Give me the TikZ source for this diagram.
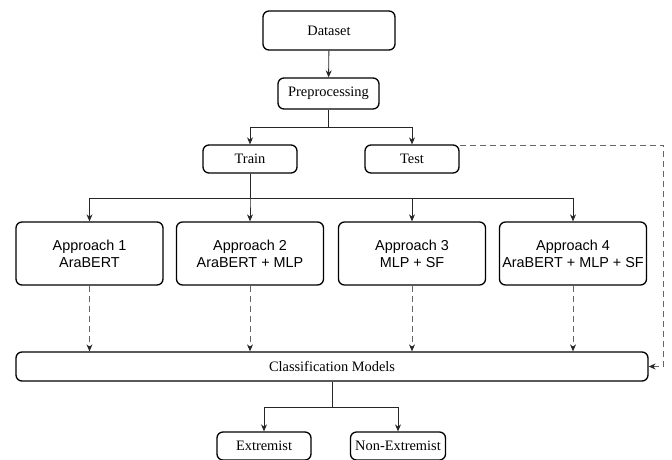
\documentclass[tikz,border=0pt]{standalone}
\usepackage{fontspec}
\setmainfont{Liberation Serif}
\setsansfont{Liberation Sans}
\usetikzlibrary{arrows.meta}

\begin{document}
\begin{tikzpicture}[x=1pt,y=-1pt,
        box/.style={draw,line width=1.3pt,rounded corners=6pt,inner sep=0pt,
          font=\fontsize{14.4}{17}\selectfont},
        appbox/.style={box,minimum width=147pt,minimum height=63pt,align=center,
          font=\sffamily\fontsize{14.4}{17}\selectfont},
        link/.style={draw=black!85,line width=0.9pt,-{Stealth[length=7pt,width=6pt]}},
        dlink/.style={link,draw=black!60,dash pattern=on 6pt off 4pt,
          -{Stealth[length=7pt,width=6pt,black!85]}}]
        \useasboundingbox (0,0) rectangle (672,459);
        % top part
        \node[box,minimum width=132pt,minimum height=39pt] (data) at (329,30.5) {Dataset};
        \node[box,minimum width=101pt,minimum height=31pt] (prep) at (328.5,93.5) {Preprocessing};
        \node[box,minimum width=94pt,minimum height=28pt] (train) at (250,159) {Train};
        \node[box,minimum width=94pt,minimum height=28pt] (test) at (412,159) {Test};
        % approaches
        \node[appbox] (app1) at (89.5,253.5) {Approach 1\\AraBERT};
        \node[appbox] (app2) at (250,253.5) {Approach 2\\AraBERT + MLP};
        \node[appbox] (app3) at (412,253.5) {Approach 3\\MLP + SF};
        \node[appbox] (app4) at (573,253.5) {Approach 4\\AraBERT + MLP + SF};
        % models and outputs
        \node[box,minimum width=632pt,minimum height=29pt] (cls) at (332,366.5) {Classification Models};
        \node[box,minimum width=94pt,minimum height=28pt] (ext) at (264,446) {Extremist};
        \node[box,minimum width=95pt,minimum height=28pt] (nonext) at (398,446) {Non-Extremist};

        \draw[link] (data) -- (prep);
        \draw[link] (prep.south) -- ++(0,18) -| (train.north);
        \draw[link] (prep.south) -- ++(0,18) -| (test.north);
        \foreach \a in {app1,app2,app3,app4}
          \draw[link] (train.south) -- ++(0,25) -| (\a.north);
        \foreach \a in {app1,app2,app3,app4}
          \draw[dlink] (\a.south) -- (\a.south |- cls.north);
        \draw[dlink] ([yshift=-1pt]test.north east) -- ++(204,0) |- (cls.east);
        \draw[link] (cls.south) -- ++(0,26) -| (ext.north);
        \draw[link] (cls.south) -- ++(0,26) -| (nonext.north);
      \end{tikzpicture}
\end{document}
